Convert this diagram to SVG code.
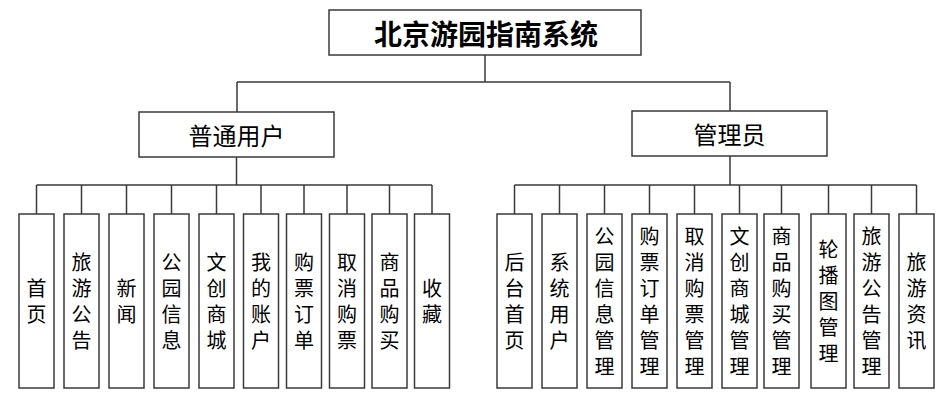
<svg xmlns="http://www.w3.org/2000/svg" width="949" height="406" viewBox="0 0 949 406">
<style>
.box{fill:#fff;stroke:#3a3a3a;stroke-width:1.5}
.ln{fill:none;stroke:#3a3a3a;stroke-width:1.5}
.t{font-family:"Noto Sans CJK SC","Microsoft YaHei",sans-serif;fill:#000;text-anchor:middle;dominant-baseline:central}
.leaf{font-size:20px;writing-mode:vertical-rl;letter-spacing:6px}
.mid{font-size:24px}
.top{font-size:28px;font-weight:bold}
</style>
<rect width="949" height="406" fill="#fff"/>
<g id="connectors">
<path class="ln" d="M485 55V82M237 82H730M237 82V112M730 82V111"/>
<path class="ln" d="M236.5 157V185M36.5 185H432M36.5 185V214M81.5 185V214M126.5 185V214M171.5 185V214M216.5 185V214M261 185V214M304 185V214M347 185V214M389.5 185V214M432 185V214"/>
<path class="ln" d="M730 156V185M514.5 185H916.5M514.5 185V214M559.5 185V214M604.5 185V214M649.5 185V214M694.5 185V214M739.5 185V214M781.5 185V214M828.5 185V214M871.5 185V214M916.5 185V214"/>
</g>
<g id="root"><rect class="box" x="329" y="10" width="312" height="45"/><text class="t top" x="486" y="33">北京游园指南系统</text></g>
<g id="user"><rect class="box" x="139" y="112" width="195" height="45"/><text class="t mid" x="236.5" y="134">普通用户</text></g>
<g id="admin"><rect class="box" x="632" y="111" width="195" height="45"/><text class="t mid" x="729.5" y="133">管理员</text></g>
<g id="u1"><rect class="box" x="19" y="214" width="35" height="174"/><text class="t leaf" x="36.5" y="304">首页</text></g>
<g id="u2"><rect class="box" x="64" y="214" width="35" height="174"/><text class="t leaf" x="81.5" y="304">旅游公告</text></g>
<g id="u3"><rect class="box" x="109" y="214" width="35" height="174"/><text class="t leaf" x="126.5" y="304">新闻</text></g>
<g id="u4"><rect class="box" x="154" y="214" width="35" height="174"/><text class="t leaf" x="171.5" y="304">公园信息</text></g>
<g id="u5"><rect class="box" x="199" y="214" width="35" height="174"/><text class="t leaf" x="216.5" y="304">文创商城</text></g>
<g id="u6"><rect class="box" x="243.5" y="214" width="35" height="174"/><text class="t leaf" x="261" y="304">我的账户</text></g>
<g id="u7"><rect class="box" x="286.5" y="214" width="35" height="174"/><text class="t leaf" x="304" y="304">购票订单</text></g>
<g id="u8"><rect class="box" x="329.5" y="214" width="35" height="174"/><text class="t leaf" x="347" y="304">取消购票</text></g>
<g id="u9"><rect class="box" x="372" y="214" width="35" height="174"/><text class="t leaf" x="389.5" y="304">商品购买</text></g>
<g id="u10"><rect class="box" x="414.5" y="214" width="35" height="174"/><text class="t leaf" x="432" y="304">收藏</text></g>
<g id="a1"><rect class="box" x="497" y="214" width="35" height="174"/><text class="t leaf" x="514.5" y="304">后台首页</text></g>
<g id="a2"><rect class="box" x="542" y="214" width="35" height="174"/><text class="t leaf" x="559.5" y="304">系统用户</text></g>
<g id="a3"><rect class="box" x="587" y="214" width="35" height="174"/><text class="t leaf" x="604.5" y="304">公园信息管理</text></g>
<g id="a4"><rect class="box" x="632" y="214" width="35" height="174"/><text class="t leaf" x="649.5" y="304">购票订单管理</text></g>
<g id="a5"><rect class="box" x="677" y="214" width="35" height="174"/><text class="t leaf" x="694.5" y="304">取消购票管理</text></g>
<g id="a6"><rect class="box" x="722" y="214" width="35" height="174"/><text class="t leaf" x="739.5" y="304">文创商城管理</text></g>
<g id="a7"><rect class="box" x="764" y="214" width="35" height="174"/><text class="t leaf" x="781.5" y="304">商品购买管理</text></g>
<g id="a8"><rect class="box" x="811" y="214" width="35" height="174"/><text class="t leaf" x="828.5" y="304">轮播图管理</text></g>
<g id="a9"><rect class="box" x="854" y="214" width="35" height="174"/><text class="t leaf" x="871.5" y="304">旅游公告管理</text></g>
<g id="a10"><rect class="box" x="899" y="214" width="35" height="174"/><text class="t leaf" x="916.5" y="304">旅游资讯</text></g>
</svg>
